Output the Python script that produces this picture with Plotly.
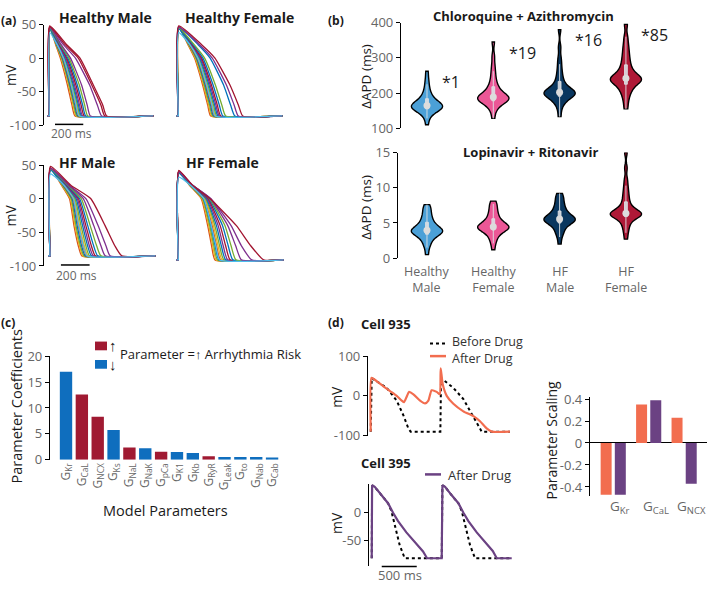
import numpy as np
import plotly.graph_objects as go

W, H = 709, 592
FONT = "Open Sans"
INK = "#1a1a1a"
GREY = "#666666"

# ---------------- (a) action potentials ----------------
BLUE, ORANGE, YELLOW, PURPLE = "#0072BD", "#D95319", "#EDB120", "#7E2F8E"
GREEN, CYAN, DRED = "#77AC30", "#4DBEEE", "#A2142F"

# columns: peak (mV), t at +20 mV, t at 0 mV, t at -40 mV, t at -70 mV, t back at rest (ms), colour
HM_AP = [
    (46, 45, 78, 128, 160, 182, ORANGE), (47, 48, 84, 136, 168, 190, YELLOW),
    (45, 50, 88, 141, 174, 196, GREEN), (44, 52, 92, 146, 180, 202, BLUE),
    (47, 55, 97, 152, 186, 208, ORANGE), (46, 58, 102, 158, 193, 215, YELLOW),
    (45, 60, 106, 164, 199, 221, GREEN), (44, 63, 111, 170, 206, 228, BLUE),
    (46, 66, 117, 178, 214, 236, PURPLE), (47, 70, 124, 188, 225, 247, DRED),
    (44, 74, 131, 198, 236, 258, BLUE), (45, 79, 140, 212, 250, 272, GREEN),
    (46, 84, 150, 228, 268, 290, PURPLE), (46, 100, 185, 285, 340, 370, PURPLE),
    (47, 112, 205, 300, 365, 392, DRED), (48, 123, 217, 311, 378, 405, DRED),
    (38, 56, 100, 155, 189, 211, CYAN),
]
HFE_AP = [
    (46, 68, 115, 172, 208, 229, ORANGE), (47, 71, 120, 178, 214, 236, YELLOW),
    (45, 74, 125, 184, 221, 243, GREEN), (44, 77, 130, 190, 228, 250, BLUE),
    (47, 80, 135, 196, 234, 257, ORANGE), (46, 83, 140, 202, 241, 264, YELLOW),
    (45, 86, 146, 209, 249, 272, GREEN), (44, 90, 152, 217, 257, 281, BLUE),
    (46, 94, 158, 225, 266, 290, PURPLE), (47, 98, 165, 234, 276, 300, DRED),
    (44, 104, 174, 246, 290, 315, BLUE), (45, 112, 186, 262, 308, 335, GREEN),
    (46, 140, 225, 320, 370, 400, BLUE), (46, 150, 240, 340, 395, 424, PURPLE),
    (48, 165, 259, 365, 425, 455, DRED), (38, 82, 138, 200, 238, 260, CYAN),
]
HFM_AP = [
    (45, 80, 136, 167, 197, 222, ORANGE), (46, 84, 142, 174, 205, 230, YELLOW),
    (44, 88, 148, 181, 212, 238, GREEN), (43, 92, 154, 189, 220, 246, BLUE),
    (46, 96, 160, 197, 229, 255, ORANGE), (45, 100, 167, 206, 239, 265, YELLOW),
    (44, 104, 174, 216, 250, 276, GREEN), (43, 108, 182, 227, 262, 289, BLUE),
    (45, 112, 190, 238, 274, 302, PURPLE), (46, 116, 198, 250, 288, 316, DRED),
    (43, 120, 207, 263, 304, 333, BLUE), (44, 125, 218, 280, 325, 355, GREEN),
    (45, 130, 232, 305, 355, 385, PURPLE), (45, 135, 250, 335, 390, 419, PURPLE),
    (48, 145, 285, 384, 452, 500, DRED), (37, 98, 163, 200, 232, 258, CYAN),
]
HFF_AP = [
    (40, 78, 160, 205, 232, 256, ORANGE), (41, 80, 165, 212, 240, 265, YELLOW),
    (39, 82, 170, 219, 248, 274, GREEN), (38, 84, 175, 227, 257, 284, BLUE),
    (40, 86, 180, 236, 267, 295, ORANGE), (41, 88, 185, 245, 277, 306, YELLOW),
    (39, 90, 190, 255, 288, 318, GREEN), (38, 92, 196, 266, 300, 331, BLUE),
    (40, 94, 202, 278, 313, 345, PURPLE), (41, 96, 208, 292, 330, 362, DRED),
    (38, 98, 214, 308, 348, 381, BLUE), (39, 100, 220, 325, 368, 402, GREEN),
    (40, 100, 225, 345, 400, 440, PURPLE), (40, 100, 228, 368, 440, 512, PURPLE),
    (42, 98, 222, 405, 505, 595, DRED), (32, 85, 178, 230, 262, 288, CYAN),
]
AP_REST = {"HM": -86, "HFE": -86, "HFM": -85, "HFF": -91}
AP_T_START, AP_T_END = -14, 735
AP_TITLES = ["Healthy Male", "Healthy Female", "HF Male", "HF Female"]

# ---------------- (b) violins ----------------
GROUPS = ["Healthy<br>Male", "Healthy<br>Female", "HF<br>Male", "HF<br>Female"]
VIOLIN_COLORS = ["#4BA0D7", "#EB5796", "#0A375F", "#AF1937"]
CQ_HM = [110, 128, 138, 145, 148, 151, 153, 155, 157, 158, 160, 161, 162, 163, 164, 165, 167, 169, 171, 174,
         177, 180, 184, 189, 195, 203, 212, 225, 240, 262]
CQ_HF = [128, 148, 158, 165, 170, 173, 176, 178, 180, 182, 183, 185, 186, 187, 188, 190, 192, 195, 198, 202,
         207, 212, 218, 225, 235, 248, 262, 280, 305, 345]
CQ_HFM = [133, 155, 168, 175, 180, 185, 188, 191, 194, 196, 198, 199, 200, 201, 202, 203, 205, 208, 211, 215,
          220, 226, 233, 242, 253, 266, 282, 300, 330, 380]
CQ_HFF = [155, 175, 190, 200, 208, 215, 220, 225, 229, 232, 235, 237, 239, 240, 241, 243, 246, 250, 254, 259,
          265, 272, 280, 290, 300, 312, 325, 340, 360, 395]
LR_HM = [0.5, 1.5, 2.0, 2.4, 2.7, 3.0, 3.2, 3.4, 3.5, 3.6, 3.7, 3.75, 3.8, 3.85, 3.9, 4.0, 4.1, 4.2, 4.35, 4.5,
         4.7, 4.9, 5.1, 5.4, 5.7, 6.0, 6.4, 6.8, 7.2, 7.6]
LR_HF = [1.2, 2.1, 2.6, 3.0, 3.3, 3.6, 3.8, 4.0, 4.1, 4.2, 4.25, 4.3, 4.35, 4.4, 4.45, 4.5, 4.6, 4.7, 4.85, 5.0,
         5.2, 5.4, 5.6, 5.9, 6.2, 6.5, 6.9, 7.3, 7.7, 8.1]
LR_HFM = [2.0, 3.0, 3.5, 3.9, 4.2, 4.5, 4.8, 5.0, 5.1, 5.2, 5.3, 5.4, 5.45, 5.5, 5.55, 5.6, 5.7, 5.8, 5.95, 6.1,
          6.3, 6.5, 6.7, 7.0, 7.3, 7.6, 8.0, 8.4, 8.8, 9.2]
LR_HFF = [2.7, 3.6, 4.2, 4.7, 5.1, 5.4, 5.7, 5.9, 6.0, 6.1, 6.15, 6.2, 6.25, 6.3, 6.35, 6.4, 6.5, 6.6, 6.8, 7.0,
          7.3, 7.6, 8.0, 8.5, 9.0, 9.6, 10.3, 11.2, 12.8, 15.0]
CQ_STARS = ["*1", "*19", "*16", "*85"]

# ---------------- (c) coefficients ----------------
PARAMS = ["G<sub>Kr</sub>", "G<sub>CaL</sub>", "G<sub>NCX</sub>", "G<sub>Ks</sub>", "G<sub>NaL</sub>",
          "G<sub>NaK</sub>", "G<sub>pCa</sub>", "G<sub>K1</sub>", "G<sub>Kb</sub>", "G<sub>RyR</sub>",
          "G<sub>Leak</sub>", "G<sub>to</sub>", "G<sub>Nab</sub>", "G<sub>Cab</sub>"]
COEF = [17.0, 12.6, 8.3, 5.75, 2.4, 2.25, 1.55, 1.5, 1.3, 0.7, 0.56, 0.56, 0.56, 0.45]
RISK_UP = [False, True, True, False, True, False, True, False, False, True, False, False, False, False]
C_RED, C_BLUE = "#A01A32", "#0F6EBE"

# ---------------- (d) example cells ----------------
C935_T_AFTER = [0, 10, 38, 181, 276, 371, 443, 476, 514, 548, 610, 705, 776, 824, 871, 943, 986, 1000, 1029,
                1086, 1181, 1324, 1467, 1562, 1657, 1729, 1990]
C935_V_AFTER = [-90, 45, 43, 24, 12, 0, -12, -16, -2, 10, 4, -12, -19, -12, 14, 10, 4, 69, 29,
                0, -20, -39, -51, -64, -82, -90, -90]
C935_T_BEFORE = [0, 14, 229, 371, 467, 538, 571, 995, 1005, 1181, 1324, 1443, 1538, 1586, 1990]
C935_V_BEFORE = [-90, 45, 20, -12, -49, -82, -90, -90, 45, 20, -8, -45, -78, -90, -90]
C395_T_AFTER = [0, 5, 43, 138, 233, 305, 376, 495, 614, 733, 790, 1000, 1010, 1048, 1143, 1238, 1310, 1381,
                1500, 1619, 1729, 1786, 2000]
C395_V_AFTER = [-82, 48, 45, 30, 16, -1, -16, -36, -53, -70, -82, -82, 48, 45, 30, 16, -1, -16,
                -36, -53, -69, -82, -82]
C395_T_BEFORE = [0, 5, 43, 138, 233, 281, 329, 400, 471, 1000, 1010, 1048, 1143, 1238, 1286, 1333, 1405, 1476, 2000]
C395_V_BEFORE = [-82, 48, 45, 30, 16, 2, -21, -59, -82, -82, 48, 45, 30, 16, 2, -21, -59, -82, -82]
SCALE_PARAMS = ["G<sub>Kr</sub>", "G<sub>CaL</sub>", "G<sub>NCX</sub>"]
SCALE_935 = [-0.47, 0.35, 0.23]
SCALE_395 = [-0.47, 0.39, -0.37]
C_935, C_395 = "#F26D4F", "#6B4283"


def px_x(a, b):
    return [a / W, b / W]


def px_y(top, bottom):
    return [1 - bottom / H, 1 - top / H]


def fx(p):
    return p / W


def fy(p):
    return 1 - p / H


fig = go.Figure()

# (a)
for rows, key, ax in [(HM_AP, "HM", ""), (HFE_AP, "HFE", "2"), (HFM_AP, "HFM", "3"), (HFF_AP, "HFF", "4")]:
    rest = AP_REST[key]
    for peak, t20, t0, tm40, tm70, trest, col in rows:
        fig.add_trace(go.Scatter(
            x=[AP_T_START, 0, 0, 3, t20, t0, tm40, tm70, trest, AP_T_END],
            y=[rest, rest, rest, peak, 20, 0, -40, -70, rest, rest],
            mode="lines", line=dict(color=col, width=1.3, shape="spline", smoothing=0.45),
            xaxis="x" + ax, yaxis="y" + ax, showlegend=False, hoverinfo="skip"))

# (b)
box_grey = "rgba(222,224,228,0.9)"
for data, ax, bw in [([CQ_HM, CQ_HF, CQ_HFM, CQ_HFF], "5", 12), ([LR_HM, LR_HF, LR_HFM, LR_HFF], "6", 0.55)]:
    for i, (vals, col) in enumerate(zip(data, VIOLIN_COLORS)):
        fig.add_trace(go.Violin(
            x=[i] * len(vals), y=vals, xaxis="x" + ax, yaxis="y" + ax,
            width=0.47, bandwidth=bw, spanmode="hard", fillcolor=col, opacity=1,
            line=dict(color="black", width=1.4), points="outliers",
            marker=dict(opacity=0, size=1),
            box=dict(visible=True, width=0.09, fillcolor=box_grey, line=dict(color=box_grey, width=1)),
            meanline_visible=False, showlegend=False, hoverinfo="skip"))
    fig.add_trace(go.Scatter(
        x=list(range(4)), y=[float(np.median(v)) for v in data], mode="markers",
        marker=dict(color="#dcdcdc", size=7), xaxis="x" + ax, yaxis="y" + ax,
        showlegend=False, hoverinfo="skip"))

# (c)
fig.add_trace(go.Bar(
    x=list(range(len(PARAMS))), y=COEF, width=0.78,
    marker=dict(color=[C_RED if u else C_BLUE for u in RISK_UP], line=dict(width=0)),
    xaxis="x7", yaxis="y7", showlegend=False, hoverinfo="skip"))

# (d)
fig.add_trace(go.Scatter(x=C935_T_BEFORE, y=C935_V_BEFORE, mode="lines",
                         line=dict(color="black", width=2, dash="dot"),
                         xaxis="x8", yaxis="y8", showlegend=False, hoverinfo="skip"))
fig.add_trace(go.Scatter(x=C935_T_AFTER, y=C935_V_AFTER, mode="lines", line_shape="spline",
                         line=dict(color=C_935, width=2.2, smoothing=0.6),
                         xaxis="x8", yaxis="y8", showlegend=False, hoverinfo="skip"))
fig.add_trace(go.Scatter(x=C395_T_BEFORE, y=C395_V_BEFORE, mode="lines",
                         line=dict(color="black", width=2, dash="dot"),
                         xaxis="x9", yaxis="y9", showlegend=False, hoverinfo="skip"))
fig.add_trace(go.Scatter(x=C395_T_AFTER, y=C395_V_AFTER, mode="lines",
                         line=dict(color=C_395, width=2.2),
                         xaxis="x9", yaxis="y9", showlegend=False, hoverinfo="skip"))
fig.add_trace(go.Bar(x=list(range(3)), y=SCALE_935, width=0.31, offset=-0.35,
                     marker=dict(color=C_935, line=dict(width=0)),
                     xaxis="x10", yaxis="y10", showlegend=False, hoverinfo="skip"))
fig.add_trace(go.Bar(x=list(range(3)), y=SCALE_395, width=0.31, offset=0.05,
                     marker=dict(color=C_395, line=dict(width=0)),
                     xaxis="x10", yaxis="y10", showlegend=False, hoverinfo="skip"))


def yax(**kw):
    base = dict(showgrid=False, zeroline=False, showline=True, linecolor="black", linewidth=1.2,
                ticks="outside", ticklen=4, tickwidth=1.2, tickcolor="black",
                tickfont=dict(family=FONT, size=13, color=GREY), fixedrange=True)
    base.update(kw)
    return base


def hid(**kw):
    base = dict(visible=False, showgrid=False, zeroline=False, fixedrange=True)
    base.update(kw)
    return base


def labels(vals):
    return [str(v) for v in vals]


mv_ticks = [50, 0, -50, -100]
layout_axes = dict(
    xaxis=hid(domain=px_x(44, 156), range=[-37.5, 754], anchor="y"),
    yaxis=yax(domain=px_y(16, 120), range=[-100, 50], tickvals=mv_ticks, ticktext=labels(mv_ticks), anchor="x"),
    xaxis2=hid(domain=px_x(173, 285), range=[-37.5, 754], anchor="y2"),
    yaxis2=hid(domain=px_y(16, 120), range=[-100, 50], anchor="x2"),
    xaxis3=hid(domain=px_x(44, 156), range=[-42, 739], anchor="y3"),
    yaxis3=yax(domain=px_y(161, 265), range=[-100, 50], tickvals=mv_ticks, ticktext=labels(mv_ticks), anchor="x3"),
    xaxis4=hid(domain=px_x(173, 285), range=[-37, 744], anchor="y4"),
    yaxis4=hid(domain=px_y(161, 265), range=[-100, 50], anchor="x4"),
    xaxis5=hid(domain=px_x(401, 660), range=[-0.392, 3.514], anchor="y5", type="linear"),
    yaxis5=yax(domain=px_y(14, 123), range=[100, 400], tickvals=[100, 200, 300, 400], anchor="x5"),
    xaxis6=hid(domain=px_x(398, 660), range=[-0.437, 3.514], anchor="y6", type="linear"),
    yaxis6=yax(domain=px_y(148, 257), range=[0, 15], tickvals=[0, 5, 10, 15], anchor="x6"),
    xaxis7=dict(domain=px_x(50, 280), range=[-1.01, 13.5], anchor="y7", tickvals=list(range(len(PARAMS))),
                ticktext=PARAMS, tickangle=-90, ticks="", showline=False, showgrid=False, zeroline=False,
                tickfont=dict(family=FONT, size=12, color=GREY), fixedrange=True),
    yaxis7=yax(domain=px_y(358, 465), range=[0, 20], tickvals=[0, 5, 10, 15, 20], anchor="x7"),
    xaxis8=hid(domain=px_x(368, 512), range=[-39, 2019], anchor="y8"),
    yaxis8=yax(domain=px_y(358, 440), range=[-100, 100], tickvals=[100, 0, -100],
               ticktext=labels([100, 0, -100]), anchor="x8"),
    xaxis9=hid(domain=px_x(369, 512), range=[-39, 2004], anchor="y9"),
    yaxis9=yax(domain=px_y(490, 574), range=[-95, 50], tickvals=[0, -50], ticktext=["0", "-50"], anchor="x9"),
    xaxis10=dict(domain=px_x(590, 707), range=[-0.65, 2.65], anchor="y10", showticklabels=False,
                 ticks="", showline=False, showgrid=False, zeroline=False, fixedrange=True),
    yaxis10=yax(domain=px_y(400, 502), range=[-0.48, 0.42], tickvals=[0.4, 0.2, 0, -0.2, -0.4],
                ticktext=["0.4", "0.2", "0", "-0.2", "-0.4"], anchor="x10",
                zeroline=True, zerolinecolor="black", zerolinewidth=1.4),
)

annotations = []


def ann(text, x, y, size=13, color=INK, xanchor="center", angle=0, xref="paper", bold=False):
    annotations.append(dict(
        text=("<b>%s</b>" % text) if bold else text, x=fx(x) if xref == "paper" else x, y=fy(y),
        xref=xref, yref="paper", xanchor=xanchor, yanchor="middle", textangle=angle,
        showarrow=False, font=dict(family=FONT, size=size, color=color)))


for lab, x, y in [("(a)", 8, 12), ("(b)", 336, 12), ("(c)", 8, 323), ("(d)", 336, 323)]:
    ann(lab, x, y, size=12, bold=True)
for title, x, y in zip(AP_TITLES, [105, 240, 87, 222], [9, 9, 158, 158]):
    ann(title, x, y, size=14, bold=True)
for y in (68, 213):
    ann("mV", 11, y, size=14, angle=-90)
ann("200 ms", 71, 128, size=12, color=GREY)
ann("200 ms", 76, 275, size=12, color=GREY)

ann("Chloroquine + Azithromycin", 523, 7, size=13, bold=True)
ann("Lopinavir + Ritonavir", 530, 147, size=13, bold=True)
ann("ΔAPD (ms)", 366, 70, size=13.5, angle=-90)
ann("ΔAPD (ms)", 366, 205, size=13.5, angle=-90)
for i, (s, y) in enumerate(zip(CQ_STARS, [75, 45, 32, 27])):
    annotations.append(dict(text=s, x=i + 0.2, y=fy(y), xref="x5", yref="paper", xanchor="left",
                            yanchor="middle", showarrow=False, font=dict(family=FONT, size=16, color=INK)))
for i, g in enumerate(GROUPS):
    annotations.append(dict(text=g, x=i, y=fy(278.5), xref="x6", yref="paper", xanchor="center",
                            yanchor="middle", showarrow=False, font=dict(family=FONT, size=12.5, color=GREY)))

ann("Parameter Coefficients", 17, 410, size=14.5, angle=-90)
ann("Model Parameters", 165, 517, size=14.5)
ann("<b>↑</b>", 113, 347, size=15)
ann("<b>↓</b>", 113, 366, size=15)
ann("Parameter =↑ Arrhythmia Risk", 118, 356, size=13, xanchor="left")

ann("Cell 935", 386, 325, size=13, bold=True)
ann("Cell 395", 386, 468, size=13, bold=True)
ann("Before Drug", 450, 343, size=12.5, color="#333333", xanchor="left")
ann("After Drug", 450, 360, size=12.5, color="#333333", xanchor="left")
ann("After Drug", 446, 481, size=13, color="#333333", xanchor="left")
ann("mV", 337, 400, size=14, angle=-90)
ann("mV", 337, 530, size=14, angle=-90)
ann("500 ms", 400, 584, size=13, color=GREY)
ann("Parameter Scaling", 551, 445, size=14, angle=-90)
for i, p in enumerate(SCALE_PARAMS):
    annotations.append(dict(text=p, x=i + 0.2, y=fy(514), xref="x10", yref="paper", xanchor="center",
                            yanchor="middle", showarrow=False, font=dict(family=FONT, size=13.5, color=GREY)))

shapes = [
    dict(type="line", xref="x", yref="paper", x0=40, x1=240, y0=fy(119), y1=fy(119),
         line=dict(color="black", width=1.5)),
    dict(type="line", xref="x3", yref="paper", x0=76, x1=276, y0=fy(264), y1=fy(264),
         line=dict(color="black", width=1.5)),
    dict(type="line", xref="x9", yref="paper", x0=143, x1=643, y0=fy(575), y1=fy(575),
         line=dict(color="black", width=1.5)),
    dict(type="rect", xref="paper", yref="paper", x0=fx(95), x1=fx(107), y0=fy(352), y1=fy(343),
         fillcolor=C_RED, line=dict(width=0)),
    dict(type="rect", xref="paper", yref="paper", x0=fx(95), x1=fx(107), y0=fy(371), y1=fy(362),
         fillcolor=C_BLUE, line=dict(width=0)),
    dict(type="line", xref="paper", yref="paper", x0=fx(430), x1=fx(446), y0=fy(345), y1=fy(345),
         line=dict(color="black", width=2, dash="dot")),
    dict(type="line", xref="paper", yref="paper", x0=fx(430), x1=fx(446), y0=fy(358), y1=fy(358),
         line=dict(color=C_935, width=2.5)),
    dict(type="line", xref="paper", yref="paper", x0=fx(425), x1=fx(441), y0=fy(480), y1=fy(480),
         line=dict(color=C_395, width=2.5)),
]

fig.update_layout(
    width=W, height=H, margin=dict(l=0, r=0, t=0, b=0),
    paper_bgcolor="white", plot_bgcolor="white",
    font=dict(family=FONT, color=INK),
    violinmode="overlay", barmode="overlay",
    annotations=annotations, shapes=shapes, **layout_axes)

fig.write_html("out.html", config={"displayModeBar": False},
               post_script="document.body.style.margin='0';document.body.style.overflow='hidden';")
